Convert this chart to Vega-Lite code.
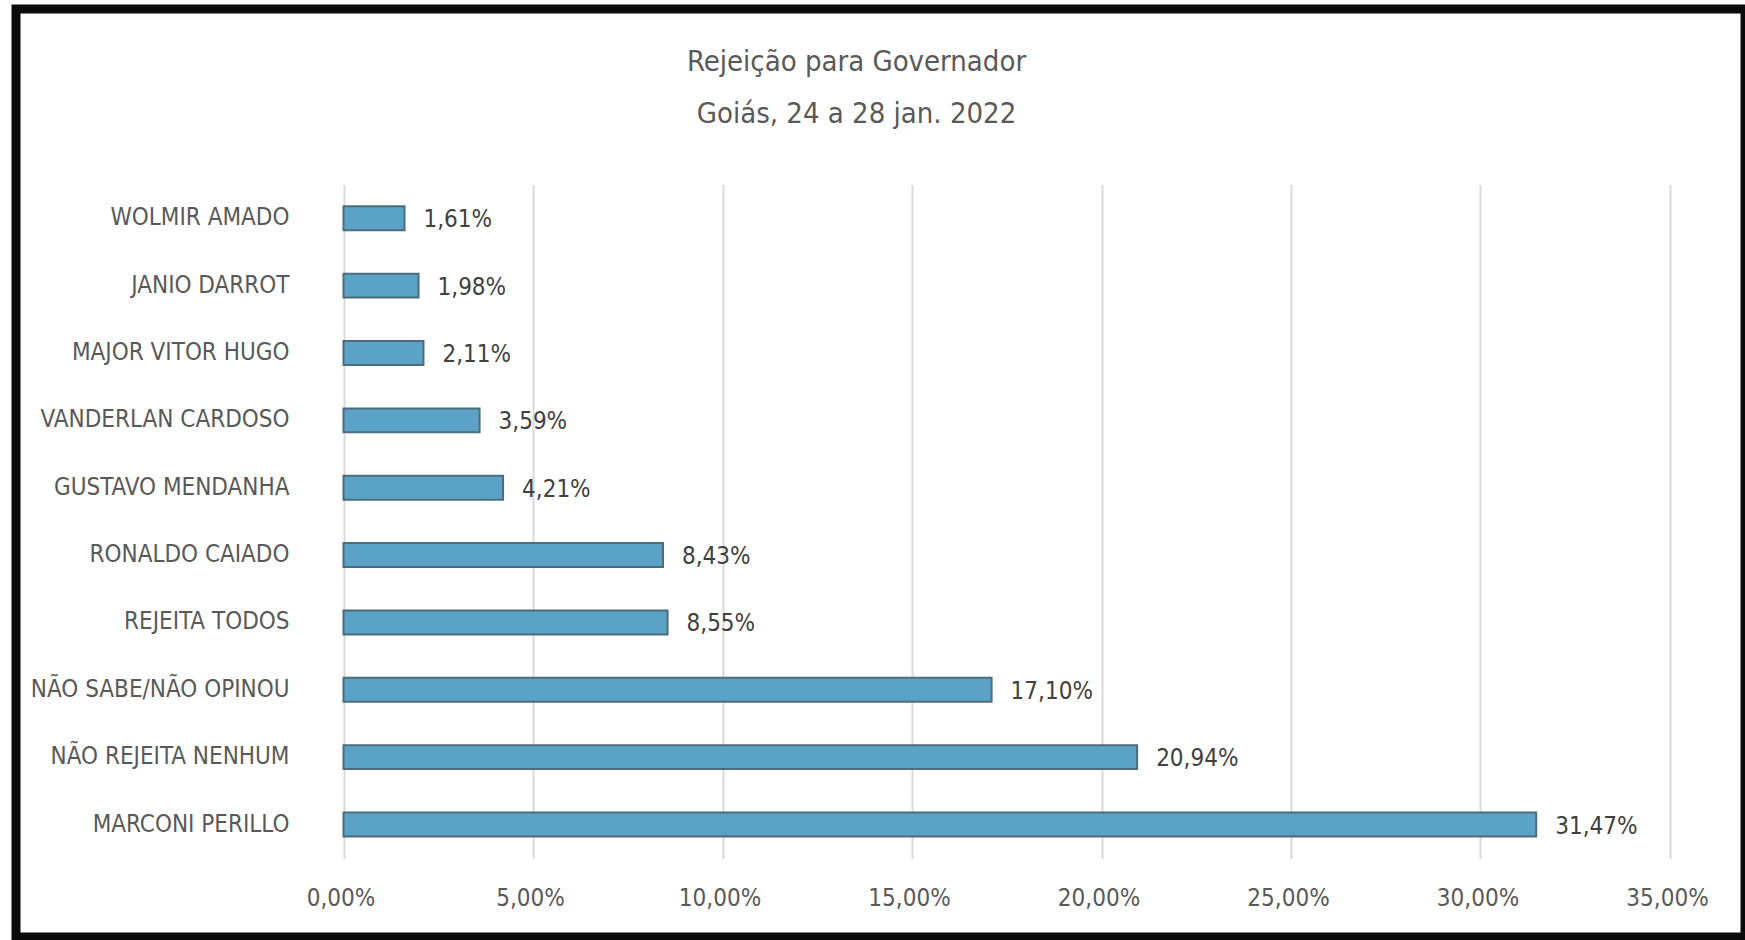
{
  "$schema": "https://vega.github.io/schema/vega-lite/v6.json",
  "width": 1729,
  "height": 928,
  "autosize": {"type": "none"},
  "padding": {"left": 16, "top": 9, "right": 0, "bottom": 3},
  "background": "white",
  "config": {
    "locale": {"number": {"decimal": ",", "thousands": ".", "grouping": [3], "currency": ["R$", ""]}},
    "view": {"stroke": "#0a0a0a", "strokeWidth": 9, "fill": "white"},
    "font": "DejaVu Sans Condensed, Liberation Sans Narrow, sans-serif"
  },
  "title": {
    "text": ["Rejeição para Governador", "Goiás, 24 a 28 jan. 2022"],
    "anchor": "middle",
    "fontSize": 29,
    "fontWeight": "normal",
    "color": "#595959",
    "lineHeight": 52,
    "baseline": "top",
    "offset": -120,
    "dx": -24
  },
  "data": {
    "values": [
      {"nome": "WOLMIR AMADO", "valor": 0.0161},
      {"nome": "JANIO DARROT", "valor": 0.0198},
      {"nome": "MAJOR VITOR HUGO", "valor": 0.0211},
      {"nome": "VANDERLAN CARDOSO", "valor": 0.0359},
      {"nome": "GUSTAVO MENDANHA", "valor": 0.0421},
      {"nome": "RONALDO CAIADO", "valor": 0.0843},
      {"nome": "REJEITA TODOS", "valor": 0.0855},
      {"nome": "NÃO SABE/NÃO OPINOU", "valor": 0.171},
      {"nome": "NÃO REJEITA NENHUM", "valor": 0.2094},
      {"nome": "MARCONI PERILLO", "valor": 0.3147}
    ]
  },
  "encoding": {
    "y": {
      "field": "nome",
      "type": "nominal",
      "sort": null,
      "scale": {"range": [175.6, 849.2], "paddingInner": 0.645, "paddingOuter": 0.3225, "round": false},
      "axis": {
        "title": null,
        "orient": "left",
        "offset": -273,
        "ticks": false,
        "domain": false,
        "grid": false,
        "labelPadding": 0,
        "labelFontSize": 24,
        "labelColor": "#595959",
        "labelLimit": 400
      }
    }
  },
  "layer": [
    {
      "mark": {"type": "bar", "fill": "#5BA3C6", "stroke": "#4D6D7D", "strokeWidth": 2},
      "encoding": {
        "x": {
          "field": "valor",
          "type": "quantitative",
          "scale": {"domain": [-0.086412, 0.369789], "nice": false, "zero": false},
          "axis": {
            "title": null,
            "values": [0, 0.05, 0.1, 0.15, 0.2, 0.25, 0.3, 0.35],
            "format": ".2%",
            "orient": "bottom",
            "offset": -78.8,
            "domain": false,
            "grid": false,
            "ticks": true,
            "tickSize": -673.6,
            "tickColor": "#D9D9D9",
            "tickWidth": 2,
            "labelPadding": 702,
            "labelFontSize": 24,
            "labelColor": "#595959",
            "labelFlush": false,
            "labelOverlap": false,
            "labelOffset": -3
          }
        },
        "x2": {"datum": 0}
      }
    },
    {
      "mark": {"type": "text", "align": "left", "baseline": "middle", "dx": 19, "dy": 2, "fontSize": 24, "color": "#404040"},
      "encoding": {
        "x": {"field": "valor", "type": "quantitative"},
        "text": {"field": "valor", "type": "quantitative", "format": ".2%"}
      }
    }
  ]
}
